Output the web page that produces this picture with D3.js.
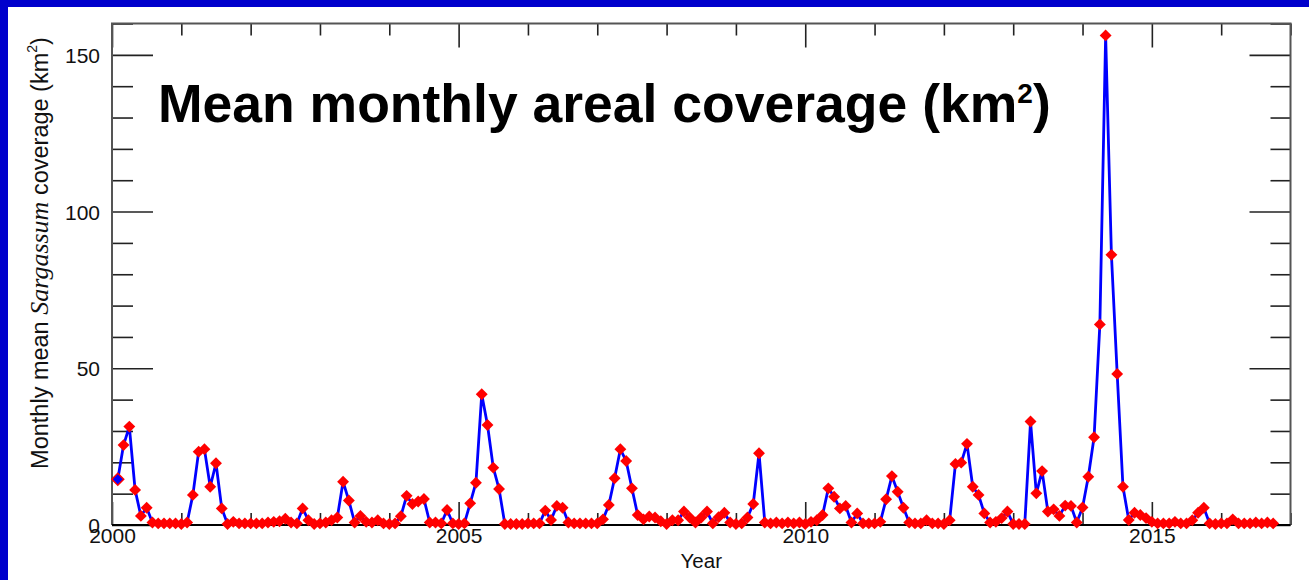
<!DOCTYPE html>
<html>
<head>
<meta charset="utf-8">
<script src="https://cdn.jsdelivr.net/npm/d3@7"></script>
<style>
  html, body { margin: 0; padding: 0; background: #0000CC; }
  svg { display: block; }
  text { font-family: "Liberation Sans", Arial, Helvetica, sans-serif; }
</style>
</head>
<body>
<svg id="chart" width="1309" height="580"></svg>
<script>
// ---- Data: monthly mean Sargassum coverage (km²), Jan 2000 .. Sep 2016 ----
const startYear = 2000;
const coverage = [
  // 2000
  14.6, 25.5, 31.4, 11.2, 2.9, 5.5, 0.8, 0.5, 0.5, 0.5, 0.5, 0.3,
  // 2001
  0.8, 9.6, 23.4, 24.2, 12.2, 19.7, 5.3, 0.3, 1.0, 0.5, 0.5, 0.5,
  // 2002
  0.5, 0.5, 0.8, 1.0, 1.2, 2.0, 0.8, 0.5, 5.3, 1.5, 0.3, 0.5,
  // 2003
  0.8, 1.5, 2.4, 13.8, 7.8, 0.8, 2.9, 1.0, 0.8, 1.5, 0.5, 0.3,
  // 2004
  0.5, 2.8, 9.3, 6.7, 7.5, 8.3, 0.8, 0.8, 0.5, 4.8, 0.5, 0.3,
  // 2005
  0.5, 6.9, 13.5, 41.7, 31.9, 18.3, 11.5, 0.3, 0.3, 0.3, 0.3, 0.5,
  // 2006
  0.5, 0.5, 4.6, 1.6, 6.1, 5.5, 0.8, 0.5, 0.5, 0.5, 0.5, 0.5,
  // 2007
  1.8, 6.4, 14.9, 24.2, 20.4, 11.7, 3.2, 1.8, 2.7, 2.4, 1.2, 0.3,
  // 2008
  1.5, 1.5, 4.3, 2.4, 0.8, 2.4, 4.3, 0.5, 2.5, 3.9, 0.8, 0.3,
  // 2009
  0.5, 2.4, 6.7, 22.9, 0.8, 0.5, 0.8, 0.5, 0.8, 0.5, 0.8, 0.3,
  // 2010
  1.0, 1.5, 3.2, 11.7, 9.0, 5.3, 6.1, 0.8, 3.7, 0.5, 0.5, 0.5,
  // 2011
  1.0, 8.2, 15.6, 10.6, 5.5, 0.8, 0.5, 0.5, 1.5, 0.5, 0.5, 0.3,
  // 2012
  1.5, 19.5, 19.9, 25.9, 12.2, 9.6, 3.7, 0.8, 1.0, 2.2, 4.3, 0.3,
  // 2013
  0.3, 0.3, 33.0, 10.1, 17.2, 4.3, 5.0, 2.9, 6.2, 6.1, 0.8, 5.6,
  // 2014
  15.4, 28.0, 64.0, 156.2, 86.2, 48.2, 12.2, 1.6, 3.9, 3.2, 2.2, 1.0,
  // 2015
  0.5, 0.5, 0.5, 1.0, 0.5, 0.5, 1.5, 3.9, 5.5, 0.5, 0.3, 0.5,
  // 2016
  0.5, 1.8, 0.5, 0.5, 0.5, 0.8, 0.5, 0.8, 0.5
];
const xDomain = [2000, 2017];
const yDomain = [0, 160];
const yearTicks = d3.range(2000, 2018, 1);
const yTicks = d3.range(0, 161, 10);
const titleText = "Mean monthly areal coverage (km";
const xLabel = "Year";

// decimal time of each monthly sample
const points = coverage.map((v, i) => ({ t: startYear + (i + 1) / 12, v }));

const svg = d3.select("#chart");
const W = 1309, H = 580;
const pL = 112, pR = 1290.5, pT = 23.5, pB = 525;

// white panel inside blue border
svg.append("rect").attr("x", 8).attr("y", 7).attr("width", W - 8).attr("height", H - 7).attr("fill", "#ffffff");

const x = d3.scaleLinear().domain(xDomain).range([pL, pR]);
const y = d3.scaleLinear().domain(yDomain).range([pB, pT]);

const tickColor = "#222";

const gB = svg.append("g").attr("transform", `translate(0,${pB})`)
  .call(d3.axisBottom(x).tickValues(yearTicks).tickSizeInner(-12).tickSizeOuter(0).tickPadding(3)
    .tickFormat(d => d % 5 === 0 ? d : ""));
const gT = svg.append("g").attr("transform", `translate(0,${pT})`)
  .call(d3.axisTop(x).tickValues(yearTicks).tickSizeInner(-12).tickSizeOuter(0).tickFormat(""));
const gL = svg.append("g").attr("transform", `translate(${pL},0)`)
  .call(d3.axisLeft(y).tickValues(yTicks).tickSizeInner(-21).tickSizeOuter(0).tickPadding(12)
    .tickFormat(d => d % 50 === 0 ? d : ""));
const gR = svg.append("g").attr("transform", `translate(${pR},0)`)
  .call(d3.axisRight(y).tickValues(yTicks).tickSizeInner(-20).tickSizeOuter(0).tickFormat(""));

[gB, gT, gL, gR].forEach(g => {
  g.select(".domain").remove();
  g.selectAll(".tick line").attr("stroke", tickColor).attr("stroke-width", 1.6);
  g.selectAll(".tick text").attr("fill", "#111").attr("font-size", 21)
    .attr("font-family", "'Liberation Sans', Arial, sans-serif");
});
gB.selectAll(".tick line").attr("y2", d => d % 5 === 0 ? -23 : -12);
gT.selectAll(".tick line").attr("y2", d => d % 5 === 0 ? 24 : 12);
gL.selectAll(".tick line").attr("x2", d => d % 50 === 0 ? 41 : 21);
gR.selectAll(".tick line").attr("x2", d => d % 50 === 0 ? -41 : -20);
gL.selectAll(".tick text").attr("dy", "0.36em");

// frame
svg.append("path")
  .attr("d", `M${pL},${pB}V${pT}H${pR}V${pB}`)
  .attr("fill", "none").attr("stroke", "#555").attr("stroke-width", 2);
svg.append("line").attr("x1", pL).attr("x2", pR).attr("y1", pB).attr("y2", pB)
  .attr("stroke", "#000").attr("stroke-width", 2);

// series line
const line = d3.line().x(d => x(d.t)).y(d => y(d.v));
svg.append("path").datum(points).attr("d", line)
  .attr("fill", "none").attr("stroke", "#0000FF").attr("stroke-width", 2.8)
  .attr("stroke-linejoin", "round");

// diamond markers
const diamond = d3.symbol().type(d3.symbolDiamond2).size(90);
svg.append("g").selectAll("path").data(points).join("path")
  .attr("transform", d => `translate(${x(d.t)},${y(d.v)})`)
  .attr("d", diamond)
  .attr("fill", (d, i) => i === 0 ? "#0000FF" : "#FF0000")
  .attr("stroke", "#FF0000").attr("stroke-width", (d, i) => i === 0 ? 1.5 : 0);

// title
const title = svg.append("text").attr("x", 158).attr("y", 122)
  .attr("font-size", 53.5).attr("font-weight", "bold").attr("fill", "#000");
title.append("tspan").text(titleText);
title.append("tspan").attr("font-size", 28).attr("dy", -19).text("2");
title.append("tspan").attr("dy", 19).text(")");

// x label
svg.append("text").attr("x", (pL + pR) / 2).attr("y", 568).attr("text-anchor", "middle")
  .attr("font-size", 20.5).attr("fill", "#111").text(xLabel);

// y label
const yl = svg.append("text").attr("transform", "translate(48,253) rotate(-90)")
  .attr("text-anchor", "middle").attr("font-size", 23.5).attr("fill", "#111");
yl.append("tspan").text("Monthly mean ");
yl.append("tspan").attr("font-family", "'Liberation Serif', 'Times New Roman', serif")
  .attr("font-style", "italic").attr("font-size", 26).text("Sargassum");
yl.append("tspan").text(" coverage (km");
yl.append("tspan").attr("font-size", 14).attr("dy", -11).text("2");
yl.append("tspan").attr("dy", 11).text(")");
</script>
</body>
</html>
